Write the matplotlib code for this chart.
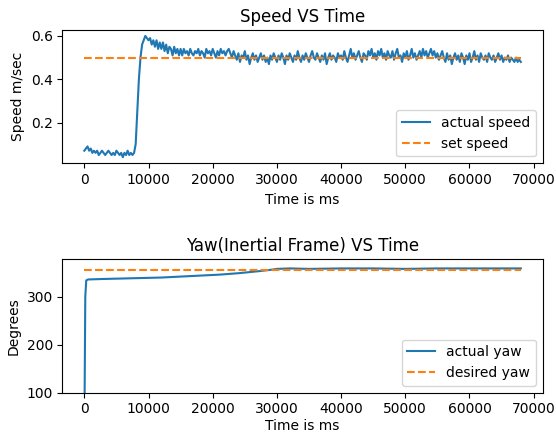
import numpy as np
import matplotlib
matplotlib.use("Agg")
import matplotlib.pyplot as plt

# speed samples every 250 ms
speed = [
    0.07, 0.08, 0.09, 0.07, 0.08, 0.06, 0.07, 0.06,
    0.07, 0.05, 0.06, 0.07, 0.06, 0.05, 0.06, 0.07,
    0.06, 0.05, 0.06, 0.05, 0.07, 0.06, 0.05, 0.06,
    0.04, 0.06, 0.05, 0.07, 0.05, 0.06, 0.05, 0.06,
    0.10, 0.25, 0.40, 0.50, 0.56, 0.58, 0.60, 0.59,
    0.58, 0.59, 0.56, 0.58, 0.55, 0.58, 0.54, 0.57,
    0.54, 0.57, 0.53, 0.56, 0.52, 0.55, 0.54, 0.51,
    0.55, 0.52, 0.54, 0.51, 0.54, 0.51, 0.54, 0.52,
    0.53, 0.51, 0.54, 0.52, 0.51, 0.53, 0.52, 0.54,
    0.51, 0.53, 0.52, 0.50, 0.54, 0.52, 0.53, 0.51,
    0.54, 0.52, 0.50, 0.53, 0.51, 0.54, 0.52, 0.53,
    0.51, 0.53, 0.54, 0.52, 0.50, 0.53, 0.51, 0.49,
    0.52, 0.48, 0.51, 0.50, 0.53, 0.49, 0.51, 0.47,
    0.50, 0.52, 0.49, 0.51, 0.48, 0.50, 0.52, 0.49,
    0.51, 0.48, 0.50, 0.47, 0.51, 0.49, 0.52, 0.50,
    0.48, 0.51, 0.49, 0.52, 0.50, 0.47, 0.51, 0.49,
    0.52, 0.50, 0.48, 0.51, 0.49, 0.53, 0.50, 0.48,
    0.51, 0.49, 0.52, 0.50, 0.48, 0.51, 0.53, 0.50,
    0.49, 0.52, 0.50, 0.48, 0.51, 0.49, 0.52, 0.47,
    0.50, 0.52, 0.49, 0.51, 0.50, 0.48, 0.52, 0.50,
    0.51, 0.49, 0.53, 0.50, 0.48, 0.51, 0.54, 0.50,
    0.52, 0.49, 0.51, 0.53, 0.50, 0.48, 0.52, 0.51,
    0.49, 0.53, 0.51, 0.54, 0.50, 0.52, 0.49, 0.53,
    0.51, 0.54, 0.50, 0.52, 0.49, 0.53, 0.51, 0.50,
    0.53, 0.49, 0.52, 0.54, 0.50, 0.51, 0.48, 0.52,
    0.50, 0.53, 0.49, 0.51, 0.54, 0.50, 0.52, 0.49,
    0.51, 0.53, 0.50, 0.54, 0.51, 0.53, 0.50, 0.52,
    0.54, 0.51, 0.53, 0.50, 0.52, 0.49, 0.51, 0.53,
    0.50, 0.48, 0.52, 0.49, 0.51, 0.47, 0.50, 0.52,
    0.49, 0.51, 0.48, 0.52, 0.50, 0.47, 0.51, 0.49,
    0.52, 0.48, 0.50, 0.53, 0.49, 0.51, 0.48, 0.52,
    0.50, 0.49, 0.51, 0.48, 0.52, 0.50, 0.49, 0.51,
    0.48, 0.50, 0.52, 0.49, 0.51, 0.48, 0.50, 0.49,
    0.51, 0.48, 0.50, 0.49, 0.48, 0.50, 0.48, 0.49,
    0.48,
]
speed_t = np.arange(len(speed)) * 250
set_speed = 0.5

yaw_t = [0, 150, 300, 600, 3000, 6000, 9000, 12000, 15000, 18000, 21000, 24000, 27000,
         29000, 30000, 32000, 35000, 40000, 45000, 50000, 55000, 60000, 65000, 68000]
yaw = [0, 300, 334, 336, 337, 338, 339, 340, 342, 344, 346, 349, 353,
       356, 358, 359, 358, 359, 359, 358, 359, 359, 359, 359]
desired_yaw = 355.5

fig, (ax1, ax2) = plt.subplots(2, 1, figsize=(5.56, 4.33), dpi=100)
fig.subplots_adjust(left=0.1124, right=0.976, top=0.931, bottom=0.0931, hspace=0.72)

ax1.plot(speed_t, speed, label="actual speed")
ax1.plot([speed_t[0], speed_t[-1]], [set_speed, set_speed], "--", label="set speed")
ax1.set_title("Speed VS Time")
ax1.set_xlabel("Time is ms")
ax1.set_ylabel("Speed m/sec")
ax1.legend(loc="lower right")

ax2.plot(yaw_t, yaw, label="actual yaw")
ax2.plot([yaw_t[0], yaw_t[-1]], [desired_yaw, desired_yaw], "--", label="desired yaw")
ax2.set_ylim(100, 378)
ax2.set_title("Yaw(Inertial Frame) VS Time")
ax2.set_xlabel("Time is ms", labelpad=2)
ax2.set_ylabel("Degrees")
ax2.legend(loc="lower right")

fig.savefig("out.png")
